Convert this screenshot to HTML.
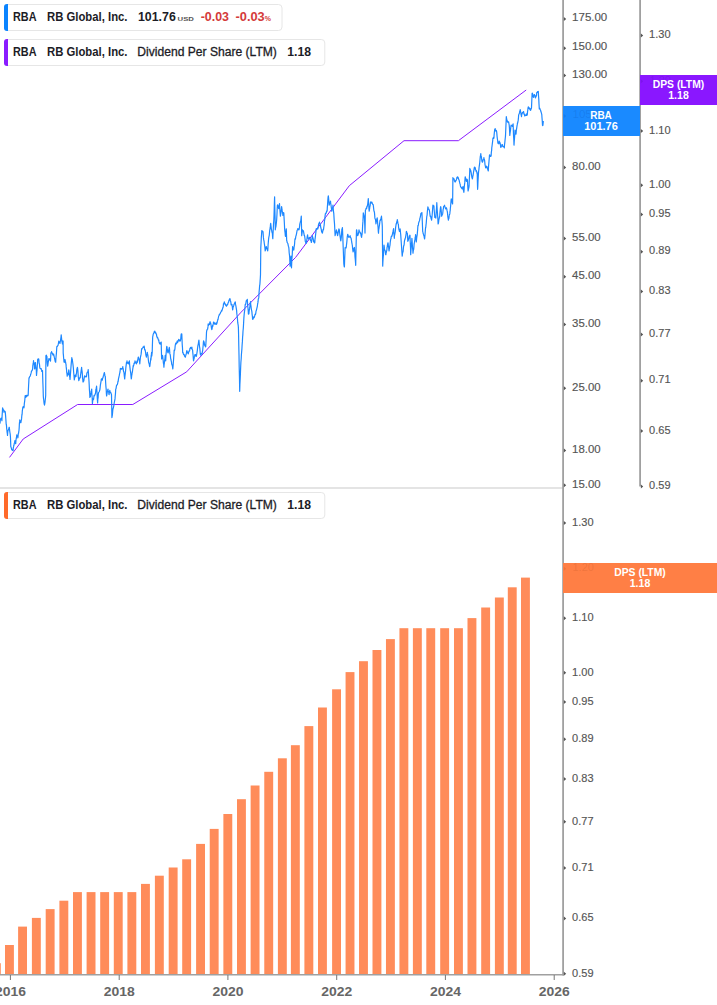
<!DOCTYPE html><html><head><meta charset="utf-8"><style>
html,body{margin:0;padding:0;background:#fff;width:717px;height:1005px;overflow:hidden;position:relative;font-family:"Liberation Sans",sans-serif;}
</style></head><body><svg width="717" height="1005" style="position:absolute;left:0;top:0" font-family="Liberation Sans, sans-serif">
<rect x="-8.10" y="963.2" width="8.9" height="10.8" fill="#ff8c5a"/>
<rect x="5.00" y="945.0" width="8.9" height="29.0" fill="#ff8c5a"/>
<rect x="18.10" y="926.6" width="8.9" height="47.4" fill="#ff8c5a"/>
<rect x="31.90" y="917.9" width="8.9" height="56.1" fill="#ff8c5a"/>
<rect x="45.70" y="909.1" width="8.9" height="64.9" fill="#ff8c5a"/>
<rect x="59.40" y="900.7" width="8.9" height="73.3" fill="#ff8c5a"/>
<rect x="73.00" y="892.1" width="8.9" height="81.9" fill="#ff8c5a"/>
<rect x="86.60" y="892.1" width="8.9" height="81.9" fill="#ff8c5a"/>
<rect x="100.20" y="892.1" width="8.9" height="81.9" fill="#ff8c5a"/>
<rect x="113.80" y="892.1" width="8.9" height="81.9" fill="#ff8c5a"/>
<rect x="127.40" y="892.1" width="8.9" height="81.9" fill="#ff8c5a"/>
<rect x="141.00" y="883.9" width="8.9" height="90.1" fill="#ff8c5a"/>
<rect x="154.90" y="875.7" width="8.9" height="98.3" fill="#ff8c5a"/>
<rect x="168.70" y="867.5" width="8.9" height="106.5" fill="#ff8c5a"/>
<rect x="182.20" y="859.3" width="8.9" height="114.7" fill="#ff8c5a"/>
<rect x="196.10" y="843.9" width="8.9" height="130.1" fill="#ff8c5a"/>
<rect x="209.73" y="828.9" width="8.9" height="145.1" fill="#ff8c5a"/>
<rect x="223.37" y="814.0" width="8.9" height="160.0" fill="#ff8c5a"/>
<rect x="237.00" y="799.2" width="8.9" height="174.8" fill="#ff8c5a"/>
<rect x="250.63" y="785.5" width="8.9" height="188.5" fill="#ff8c5a"/>
<rect x="264.27" y="771.8" width="8.9" height="202.2" fill="#ff8c5a"/>
<rect x="277.90" y="758.3" width="8.9" height="215.7" fill="#ff8c5a"/>
<rect x="290.90" y="745.2" width="8.9" height="228.8" fill="#ff8c5a"/>
<rect x="304.40" y="726.1" width="8.9" height="247.9" fill="#ff8c5a"/>
<rect x="318.00" y="707.5" width="8.9" height="266.5" fill="#ff8c5a"/>
<rect x="332.10" y="689.3" width="8.9" height="284.7" fill="#ff8c5a"/>
<rect x="345.57" y="672.1" width="8.9" height="301.9" fill="#ff8c5a"/>
<rect x="359.03" y="661.2" width="8.9" height="312.8" fill="#ff8c5a"/>
<rect x="372.50" y="650.0" width="8.9" height="324.0" fill="#ff8c5a"/>
<rect x="385.97" y="639.1" width="8.9" height="334.9" fill="#ff8c5a"/>
<rect x="399.43" y="628.2" width="8.9" height="345.8" fill="#ff8c5a"/>
<rect x="412.90" y="628.2" width="8.9" height="345.8" fill="#ff8c5a"/>
<rect x="426.30" y="628.2" width="8.9" height="345.8" fill="#ff8c5a"/>
<rect x="440.20" y="628.2" width="8.9" height="345.8" fill="#ff8c5a"/>
<rect x="454.00" y="628.2" width="8.9" height="345.8" fill="#ff8c5a"/>
<rect x="467.50" y="618.1" width="8.9" height="355.9" fill="#ff8c5a"/>
<rect x="481.20" y="607.5" width="8.9" height="366.5" fill="#ff8c5a"/>
<rect x="494.90" y="597.5" width="8.9" height="376.5" fill="#ff8c5a"/>
<rect x="507.80" y="587.3" width="8.9" height="386.7" fill="#ff8c5a"/>
<rect x="521.00" y="577.6" width="8.9" height="396.4" fill="#ff8c5a"/>
<rect x="0" y="487" width="563" height="2" fill="#e4e4e4"/>
<rect x="562.2" y="0" width="1.8" height="975.5" fill="#a0a0a0"/>
<rect x="639.2" y="0" width="1.8" height="486.5" fill="#a0a0a0"/>
<rect x="0" y="974" width="564" height="1.5" fill="#a0a0a0"/>
<rect x="9.9" y="975" width="1" height="5" fill="#777"/>
<rect x="118.7" y="975" width="1" height="5" fill="#777"/>
<rect x="227.4" y="975" width="1" height="5" fill="#777"/>
<rect x="336.2" y="975" width="1" height="5" fill="#777"/>
<rect x="444.9" y="975" width="1" height="5" fill="#777"/>
<rect x="553.7" y="975" width="1" height="5" fill="#777"/>
<polyline points="9.5,457.4 23.2,439.0 77.6,404.5 132.8,404.5 186.7,371.8 241.1,312.2 295.6,257.4 349.3,185.7 404.0,140.7 458.4,140.7 526.2,90.0" fill="none" stroke="#8a1cff" stroke-width="1.0" stroke-linejoin="round"/>
<polyline points="0.0,423.6 0.2,421.0 0.5,419.5 0.8,418.4 1.0,418.5 1.2,418.1 1.4,418.5 1.7,419.3 1.9,420.6 2.1,415.9 2.4,411.2 2.6,407.9 2.8,408.3 3.0,409.5 3.3,410.2 3.5,410.2 3.7,410.1 3.9,412.1 4.1,412.1 4.3,411.7 4.6,411.1 4.8,411.4 5.0,411.7 5.2,411.6 5.4,413.6 5.6,415.9 5.8,418.5 6.0,421.3 6.2,424.2 6.5,425.6 6.7,428.8 6.9,430.0 7.1,432.1 7.3,433.3 7.5,435.5 7.7,432.6 8.0,430.4 8.2,430.3 8.4,429.7 8.6,429.7 8.9,428.2 9.1,427.4 9.3,427.3 9.5,429.0 9.7,431.1 10.0,433.0 10.2,434.1 10.4,436.3 10.6,440.6 10.8,446.7 11.0,446.9 11.2,447.9 11.5,448.4 11.7,449.6 11.9,449.7 12.1,450.1 12.4,449.8 12.6,450.4 12.9,450.6 13.1,450.4 13.3,448.0 13.6,446.7 13.8,445.2 14.0,445.1 14.2,443.6 14.5,442.7 14.7,441.8 14.9,440.7 15.1,441.8 15.3,442.9 15.5,443.4 15.7,443.7 15.9,441.1 16.1,439.2 16.4,438.0 16.6,436.4 16.8,434.8 17.0,435.4 17.2,435.9 17.5,436.0 17.7,436.5 17.9,437.8 18.1,435.8 18.3,433.5 18.6,433.1 18.8,431.4 19.0,430.3 19.2,427.6 19.4,423.5 19.6,421.9 19.8,419.9 20.0,420.6 20.2,421.7 20.5,422.4 20.7,422.3 20.9,422.8 21.1,421.1 21.4,419.9 21.6,418.4 21.8,415.8 22.1,414.2 22.3,411.1 22.6,409.0 22.8,407.2 23.0,407.4 23.2,406.6 23.5,406.5 23.7,407.1 23.9,407.9 24.1,406.8 24.3,403.9 24.6,401.7 24.8,400.0 25.0,397.7 25.2,395.6 25.5,395.8 25.7,397.0 25.9,397.3 26.1,396.2 26.4,395.6 26.6,395.3 26.8,396.3 27.1,396.1 27.3,395.4 27.5,395.8 27.7,395.1 28.0,395.7 28.2,394.5 28.4,389.6 28.6,385.5 28.8,381.9 29.0,377.8 29.2,378.2 29.5,377.0 29.7,376.7 30.0,376.4 30.2,376.2 30.4,375.5 30.7,374.2 30.9,373.7 31.2,372.7 31.4,371.4 31.6,370.9 31.9,370.6 32.1,370.7 32.4,369.7 32.6,369.0 32.8,365.7 33.0,364.5 33.3,363.2 33.5,360.7 33.7,361.9 33.9,362.6 34.2,364.2 34.4,365.9 34.6,369.0 34.8,367.8 35.0,366.0 35.2,362.9 35.4,362.6 35.6,365.2 35.8,366.5 36.1,369.1 36.3,370.5 36.5,375.4 36.7,373.1 37.0,370.4 37.2,367.2 37.5,362.7 37.7,359.5 37.9,359.0 38.2,359.9 38.4,359.0 38.7,358.9 38.9,360.3 39.1,363.1 39.3,363.8 39.5,364.4 39.7,366.6 39.9,368.1 40.2,368.2 40.4,368.6 40.7,369.0 40.9,369.0 41.1,368.5 41.4,369.4 41.6,369.9 41.8,371.4 42.0,371.3 42.3,371.3 42.5,370.6 42.7,377.3 42.9,383.2 43.1,388.8 43.3,396.1 43.5,398.5 43.8,400.5 44.0,402.8 44.3,404.3 44.5,405.2 44.7,403.9 45.0,402.3 45.2,400.2 45.5,397.7 45.7,395.3 45.9,355.5 46.1,355.6 46.4,355.2 46.6,356.2 46.9,356.3 47.1,359.4 47.3,362.9 47.5,364.9 47.7,366.2 47.9,364.8 48.2,362.5 48.4,361.5 48.7,359.9 48.9,358.7 49.1,359.7 49.4,358.8 49.6,359.8 49.8,359.9 50.0,359.8 50.3,360.1 50.5,361.1 50.7,357.1 50.9,353.1 51.1,352.5 51.4,352.7 51.6,351.6 51.8,352.1 52.0,353.1 52.3,353.1 52.5,353.9 52.7,354.2 53.0,355.1 53.2,354.7 53.4,354.3 53.6,354.0 53.9,355.4 54.1,356.3 54.3,357.2 54.6,358.3 54.8,359.4 55.0,360.5 55.2,361.4 55.5,362.1 55.7,362.2 55.9,358.5 56.1,356.3 56.4,353.4 56.6,350.1 56.8,346.7 57.0,346.5 57.3,346.5 57.5,345.7 57.8,345.6 58.0,345.5 58.2,344.5 58.4,343.5 58.6,342.3 58.8,341.1 59.0,342.6 59.3,341.9 59.5,342.6 59.8,343.0 60.0,343.5 60.2,341.8 60.5,340.7 60.7,339.0 61.0,337.0 61.2,334.8 61.4,336.8 61.7,339.6 61.9,341.4 62.2,342.7 62.4,343.9 62.6,342.5 62.9,340.9 63.1,341.1 63.2,353.1 63.4,354.9 63.6,357.8 63.8,359.3 64.0,361.8 64.2,362.4 64.5,361.3 64.7,360.3 65.0,359.6 65.2,360.3 65.4,362.1 65.6,362.0 65.8,363.6 66.0,364.2 66.2,366.9 66.5,369.5 66.7,372.2 67.0,373.9 67.2,376.2 67.4,374.3 67.7,373.5 67.9,373.9 68.1,374.8 68.3,373.4 68.6,371.2 68.8,369.8 69.0,370.8 69.3,373.9 69.5,375.9 69.8,377.1 70.0,379.4 70.2,377.2 70.5,373.5 70.7,370.6 70.9,367.9 71.1,365.4 71.3,362.9 71.6,360.1 71.8,357.7 72.0,358.4 72.2,358.9 72.5,361.1 72.7,362.5 72.9,363.9 73.1,365.6 73.4,368.4 73.6,371.8 73.8,373.7 74.1,377.3 74.3,379.9 74.5,378.7 74.8,377.1 75.0,375.8 75.3,375.1 75.5,375.2 75.8,376.7 76.0,376.5 76.2,374.3 76.5,373.2 76.7,370.9 76.9,369.1 77.2,368.1 77.4,367.4 77.6,368.2 77.9,370.7 78.1,374.1 78.3,377.0 78.6,378.9 78.8,380.6 79.0,380.0 79.3,378.9 79.5,378.4 79.7,377.9 80.0,377.4 80.2,377.9 80.4,376.3 80.7,373.8 80.9,373.0 81.1,370.8 81.4,369.0 81.6,367.4 81.8,369.6 82.1,371.4 82.3,373.6 82.5,377.6 82.8,379.6 83.0,382.0 83.2,381.9 83.4,381.5 83.6,381.2 83.8,380.9 84.1,378.6 84.3,377.1 84.5,376.3 84.7,375.8 84.9,376.6 85.2,376.9 85.4,376.6 85.6,376.6 85.8,376.3 86.0,376.4 86.3,376.8 86.5,376.5 86.7,374.8 86.9,373.0 87.1,372.6 87.3,372.3 87.6,371.8 87.8,371.3 88.0,370.7 88.2,369.5 88.5,374.0 88.7,377.3 89.0,381.3 89.2,384.8 89.4,389.5 89.7,393.3 89.9,397.4 90.1,396.7 90.4,396.6 90.6,395.0 90.8,393.4 91.0,392.9 91.2,391.1 91.5,390.4 91.7,389.0 91.9,394.1 92.2,398.0 92.4,403.6 92.6,401.8 92.8,399.7 93.0,399.6 93.2,398.6 93.5,399.6 93.7,398.4 93.9,396.7 94.1,395.3 94.3,395.9 94.6,395.3 94.8,395.1 95.0,394.9 95.3,393.7 95.5,393.2 95.7,391.5 95.9,389.2 96.2,388.4 96.4,387.5 96.6,386.2 96.8,390.2 97.1,393.4 97.3,398.4 97.6,402.9 97.8,399.7 98.1,397.6 98.3,394.5 98.6,392.5 98.8,392.1 99.1,391.8 99.3,391.5 99.5,391.1 99.8,389.8 100.0,389.0 100.2,386.9 100.4,384.9 100.7,383.3 100.9,381.9 101.1,381.3 101.3,379.1 101.6,379.1 101.8,378.6 102.0,379.8 102.3,380.1 102.5,378.6 102.7,378.3 102.9,377.3 103.1,377.4 103.3,376.1 103.6,375.4 103.8,374.7 104.0,374.0 104.2,373.0 104.4,372.6 104.6,373.8 104.9,375.4 105.1,376.3 105.3,376.5 105.5,379.8 105.7,383.3 105.9,386.4 106.2,389.5 106.4,393.6 106.6,396.0 106.8,395.1 107.1,393.2 107.3,392.2 107.5,391.2 107.8,390.0 108.0,389.0 108.2,390.9 108.4,391.3 108.7,391.9 108.9,394.0 109.1,394.6 109.3,392.5 109.6,391.9 109.8,390.4 110.0,392.3 110.2,392.3 110.4,392.7 110.7,392.3 110.9,393.2 111.1,393.3 111.3,394.1 111.5,394.6 111.7,405.6 111.9,417.6 112.1,416.5 112.4,414.8 112.6,412.4 112.8,409.9 113.1,408.3 113.3,408.2 113.5,407.1 113.8,405.8 114.0,404.5 114.2,403.0 114.5,401.5 114.7,400.6 115.0,398.9 115.2,396.2 115.5,393.1 115.7,389.3 115.9,388.9 116.1,388.3 116.3,386.8 116.5,385.5 116.8,384.9 117.0,385.0 117.2,384.8 117.4,384.4 117.6,383.6 117.8,382.5 118.0,381.2 118.2,381.4 118.4,379.3 118.7,377.7 118.9,377.3 119.1,375.8 119.3,375.4 119.5,374.1 119.7,373.2 120.0,372.0 120.2,370.1 120.4,368.4 120.7,369.0 120.9,368.5 121.1,368.6 121.3,368.9 121.5,368.9 121.7,369.3 122.0,368.7 122.2,368.2 122.4,368.5 122.6,367.9 122.8,366.6 123.0,367.9 123.2,368.9 123.4,370.7 123.6,371.6 123.9,372.3 124.1,373.5 124.3,376.0 124.5,377.4 124.7,378.9 124.9,376.4 125.2,374.1 125.4,372.3 125.6,370.8 125.9,367.1 126.1,365.6 126.3,364.1 126.5,362.4 126.8,362.5 127.0,360.9 127.2,362.4 127.5,363.2 127.7,362.6 127.9,363.1 128.2,363.8 128.4,363.8 128.7,362.1 128.9,361.9 129.2,361.7 129.4,360.9 129.6,364.2 129.8,366.1 130.0,367.9 130.2,369.8 130.5,371.3 130.7,372.8 130.9,374.9 131.1,377.2 131.3,378.9 131.5,377.7 131.7,375.5 131.9,374.7 132.1,373.0 132.4,372.0 132.6,370.2 132.8,368.6 133.0,367.6 133.2,365.6 133.4,366.4 133.6,365.5 133.9,364.6 134.1,363.1 134.3,363.4 134.6,363.4 134.8,362.8 135.0,360.9 135.2,361.3 135.4,362.5 135.6,362.9 135.9,362.9 136.1,362.8 136.3,363.0 136.5,363.8 136.7,362.3 136.9,361.2 137.1,362.1 137.3,362.3 137.6,360.5 137.8,359.6 138.0,358.6 138.2,357.4 138.4,357.1 138.6,357.9 138.9,358.7 139.1,359.4 139.3,360.3 139.6,362.2 139.8,363.8 140.0,361.3 140.2,359.5 140.4,357.4 140.6,356.5 140.9,355.1 141.1,354.2 141.3,352.7 141.5,349.8 141.7,348.6 141.9,348.7 142.1,349.0 142.3,348.0 142.5,348.1 142.8,347.5 143.0,347.0 143.2,347.2 143.4,347.4 143.6,346.7 143.8,346.7 144.1,346.1 144.3,346.8 144.5,348.8 144.7,349.9 144.9,349.5 145.2,350.0 145.4,351.5 145.7,353.5 145.9,355.1 146.2,356.2 146.4,357.1 146.6,355.6 146.9,354.6 147.1,353.7 147.3,352.4 147.5,353.7 147.7,354.7 148.0,356.2 148.2,358.5 148.4,360.3 148.6,361.9 148.8,363.0 149.0,363.2 149.3,364.4 149.5,366.0 149.7,366.6 149.9,365.8 150.1,363.9 150.3,362.5 150.5,360.7 150.8,358.1 151.0,357.9 151.2,355.5 151.4,354.4 151.6,352.4 150.9,359.9 151.1,358.0 151.3,356.5 151.6,355.8 151.8,355.9 152.0,354.0 152.2,352.7 152.4,345.2 152.7,336.6 152.9,336.1 153.1,334.6 153.3,334.1 153.6,333.4 153.8,333.3 154.0,332.6 154.2,331.7 154.4,332.0 154.7,331.1 154.9,331.5 155.1,332.5 155.4,332.8 155.6,332.3 155.8,333.0 156.0,333.9 156.3,333.8 156.5,334.3 156.7,336.1 157.0,336.6 157.2,337.5 157.4,338.0 157.6,337.5 157.8,337.8 158.1,338.8 158.3,339.6 158.5,340.2 158.8,339.9 159.0,342.0 159.2,342.4 159.4,343.0 159.7,343.8 159.9,343.4 160.1,342.9 160.3,343.0 160.5,344.1 160.8,342.9 161.0,342.6 161.2,342.0 161.4,350.2 161.6,359.0 161.8,358.2 162.1,356.7 162.3,356.2 162.5,355.4 162.7,356.4 163.0,359.0 163.2,360.7 163.4,363.2 163.7,364.3 163.9,367.1 164.1,364.5 164.3,363.6 164.6,360.7 164.8,360.0 165.0,358.1 165.2,355.4 165.4,357.9 165.7,360.8 165.9,357.0 166.1,353.5 166.4,350.6 166.6,347.3 166.8,346.3 167.0,347.2 167.2,348.7 167.5,350.1 167.7,352.0 167.9,352.7 168.1,352.9 168.4,351.9 168.6,350.5 168.8,349.7 169.1,348.8 169.3,347.3 169.5,348.9 169.7,351.6 169.9,353.9 170.2,354.5 170.4,355.8 170.6,358.1 170.8,359.0 171.0,360.0 171.3,361.3 171.5,362.2 171.7,364.2 171.9,364.6 172.1,365.1 172.4,366.2 172.6,367.5 172.8,368.9 173.0,366.6 173.3,363.0 173.5,360.5 173.7,357.5 174.0,353.4 174.2,350.0 174.4,350.6 174.6,350.3 174.9,349.1 175.1,346.6 175.3,345.2 175.6,343.8 175.8,343.0 176.0,343.8 176.2,344.0 176.4,343.9 176.7,343.0 176.9,341.9 177.1,341.4 177.4,340.8 177.6,342.6 177.8,342.0 178.0,341.0 178.2,341.2 178.5,340.7 178.7,339.3 178.9,340.5 179.1,340.6 179.3,339.9 179.6,340.4 179.8,341.1 180.0,341.1 180.2,340.8 180.4,340.7 180.7,339.3 180.9,337.1 181.1,334.7 181.4,333.8 181.6,333.9 181.8,333.9 182.0,338.8 182.2,344.1 182.5,348.0 182.7,352.7 182.9,352.2 183.2,353.2 183.4,354.0 183.6,354.5 183.9,354.7 184.1,354.5 184.3,354.9 184.5,356.1 184.8,356.2 185.0,356.9 185.2,356.7 185.4,357.2 185.6,355.7 185.8,355.2 186.1,354.3 186.3,353.7 186.5,352.5 186.7,350.9 186.9,350.7 187.1,351.4 187.4,352.6 187.6,352.3 187.8,352.9 188.1,353.5 188.3,353.8 188.5,352.7 188.7,352.3 188.9,351.0 189.2,351.2 189.4,351.1 189.6,350.9 189.9,348.5 190.1,348.3 190.3,348.2 190.5,347.4 190.8,348.2 191.0,348.4 191.2,348.4 191.4,348.0 191.7,347.4 191.9,347.2 192.1,349.5 192.4,349.7 192.6,350.0 192.8,352.7 193.1,355.5 193.3,358.2 193.5,360.8 193.7,360.3 193.9,359.0 194.1,358.6 194.4,356.7 194.6,356.2 194.8,355.1 195.0,354.5 195.2,354.8 195.5,354.6 195.7,355.9 195.9,356.0 196.2,356.3 196.4,356.1 196.6,354.8 196.9,353.1 197.1,351.8 197.3,350.6 197.5,348.7 197.8,346.2 198.0,345.1 198.2,344.3 198.4,343.3 198.7,341.0 198.9,340.0 199.1,342.2 199.3,344.3 199.5,346.5 199.8,348.2 200.0,350.2 200.2,352.8 200.4,354.3 200.6,355.2 200.8,355.1 201.0,355.2 201.2,353.9 201.4,353.4 201.7,353.7 201.9,353.6 202.1,353.6 202.3,352.7 202.5,351.2 202.7,350.3 202.9,348.0 203.2,345.3 203.4,342.3 203.6,340.8 203.8,341.6 204.1,341.7 204.3,343.3 204.5,344.5 204.8,345.7 205.0,345.2 205.2,345.8 205.5,346.9 205.7,346.8 205.9,343.4 206.1,340.3 206.3,337.0 206.5,332.4 206.7,330.7 206.9,330.2 207.1,329.7 207.3,329.4 207.6,329.1 207.8,327.8 208.0,326.4 208.2,323.9 208.4,324.1 208.6,325.4 208.8,324.8 209.1,324.2 209.3,324.3 209.5,324.3 209.7,323.0 209.9,322.2 210.1,321.7 210.4,323.3 210.6,323.0 210.8,323.9 211.1,325.5 211.3,327.0 211.5,328.3 211.8,329.6 212.0,329.0 212.2,327.9 212.4,326.5 212.6,325.4 212.8,326.4 213.1,324.4 213.3,323.9 213.5,322.1 213.7,322.2 213.9,322.9 214.2,322.4 214.4,323.7 214.6,323.6 214.9,324.3 215.1,324.4 215.3,323.8 215.6,323.4 215.8,323.1 216.0,323.2 216.2,323.0 216.5,324.4 216.7,323.9 216.9,323.3 217.1,322.5 217.3,321.7 217.6,320.4 217.8,319.4 218.0,319.7 218.2,318.5 218.5,317.0 218.7,316.0 219.0,315.5 219.2,314.6 219.4,315.0 219.6,314.5 219.8,314.2 220.1,313.6 220.3,313.4 220.5,312.7 220.7,312.3 220.9,312.1 221.1,311.6 221.3,311.1 221.6,310.5 221.8,311.1 222.0,310.5 222.2,309.5 222.4,309.4 222.6,308.5 222.8,307.5 223.1,307.4 223.3,306.0 223.5,303.6 223.7,303.6 223.9,304.1 224.1,302.7 224.3,301.9 224.5,303.4 224.7,303.1 224.9,303.6 225.2,303.8 225.4,304.8 225.6,304.5 225.8,305.4 226.1,305.6 226.3,306.1 226.5,306.2 226.8,305.0 227.0,305.2 227.2,304.5 227.5,304.8 227.7,304.5 227.9,303.5 228.2,302.6 228.4,302.4 228.6,302.2 228.9,300.7 229.1,299.9 229.3,300.2 229.6,299.8 229.8,298.5 230.0,299.1 230.2,299.5 230.4,300.9 230.7,301.6 230.9,302.6 231.1,304.8 231.3,304.5 231.5,304.5 231.7,304.4 231.9,304.4 232.2,306.2 232.4,307.5 232.6,309.8 232.8,309.5 233.0,307.4 233.3,307.0 233.5,306.2 233.8,305.4 234.0,304.5 234.2,304.0 234.4,303.4 234.7,302.9 234.9,302.9 235.1,302.2 235.3,301.9 235.5,304.4 235.7,305.0 235.9,306.0 236.2,307.8 236.4,309.1 236.6,310.4 236.8,313.3 237.0,314.9 237.2,316.0 237.4,318.2 237.7,322.2 237.9,323.6 238.2,325.3 238.4,327.6 238.6,335.7 238.8,345.8 239.0,354.8 239.2,366.9 239.5,379.5 239.7,391.3 239.9,384.7 240.2,378.6 240.4,374.1 240.7,366.3 240.9,362.2 241.2,358.7 241.4,354.8 241.6,352.4 241.9,348.9 242.1,345.2 242.4,341.4 242.6,337.0 242.8,335.1 243.0,331.3 243.3,328.2 243.5,324.9 243.7,321.3 243.9,317.6 244.1,315.2 244.3,313.1 244.6,311.0 244.8,309.5 245.0,307.2 245.2,304.6 245.4,304.3 245.7,304.3 245.9,303.2 246.1,301.6 246.4,300.4 246.6,300.7 246.8,300.9 247.1,299.8 247.3,299.4 247.5,302.5 247.7,306.0 248.0,308.1 248.2,310.5 248.4,314.0 248.6,314.2 248.9,313.7 249.1,311.4 249.3,310.2 249.6,308.4 249.8,306.9 250.0,304.9 250.3,303.0 250.5,301.5 250.7,304.3 251.0,306.3 251.2,308.1 251.4,309.6 251.7,310.6 251.9,311.9 252.1,314.3 252.4,316.4 252.6,319.3 252.8,319.4 253.0,319.2 253.3,318.0 253.5,318.2 253.7,316.9 253.9,317.8 254.2,317.3 254.4,317.2 254.6,316.1 254.8,315.3 255.1,314.2 255.3,314.6 255.5,314.3 255.8,313.1 256.0,311.3 256.2,310.8 256.5,310.0 256.7,308.8 256.9,308.1 257.2,306.8 257.4,305.8 257.6,304.2 257.9,302.7 258.1,301.2 258.3,298.9 258.6,298.3 258.8,297.4 259.0,293.4 259.2,290.7 259.4,288.7 259.6,286.0 259.9,284.1 260.1,281.1 260.3,278.3 260.5,274.6 260.8,247.5 261.1,242.3 261.3,237.8 261.6,234.1 261.8,230.6 262.0,231.5 262.3,231.7 262.5,231.1 262.8,231.5 263.0,231.5 263.2,234.4 263.4,237.4 263.7,239.7 263.9,240.5 264.1,241.7 264.3,243.5 264.5,244.6 264.8,246.6 265.0,248.7 265.2,250.9 265.4,250.3 265.7,248.8 265.9,247.5 266.2,246.6 266.4,246.7 266.6,247.8 266.8,248.6 267.0,248.8 267.3,249.4 267.5,250.0 267.7,250.9 267.9,248.6 268.1,244.7 268.3,242.5 268.5,239.9 268.7,238.1 268.9,236.9 269.2,235.6 269.4,234.0 269.6,231.3 269.8,229.9 270.0,228.8 270.3,227.2 270.5,224.6 270.7,223.4 270.9,225.3 271.1,226.9 271.3,228.6 271.5,229.8 271.7,230.4 271.9,231.8 272.1,232.6 272.4,233.7 272.6,237.1 272.8,238.6 273.0,234.2 273.3,228.7 273.5,224.3 273.8,220.3 274.0,215.4 274.2,209.5 274.4,202.2 274.6,196.8 274.8,207.0 275.1,218.2 275.3,229.8 275.5,228.2 275.7,227.3 276.0,226.0 276.2,224.3 276.4,222.6 276.6,220.5 276.8,217.2 277.0,213.7 277.2,208.8 277.4,205.2 277.6,205.4 277.8,205.0 278.0,206.5 278.3,206.3 278.5,207.8 278.7,208.6 278.9,207.4 279.1,206.0 279.3,205.0 279.5,203.5 279.7,206.8 279.9,209.9 280.2,213.6 280.4,216.2 280.6,214.6 280.9,213.4 281.1,211.1 281.4,209.1 281.6,206.5 281.8,207.9 282.0,209.7 282.2,211.1 282.5,212.1 282.7,213.7 282.9,215.4 283.1,214.9 283.4,214.6 283.6,212.6 283.8,212.8 284.0,216.7 284.2,220.1 284.4,223.8 284.6,228.1 284.8,231.0 285.1,233.0 285.3,235.4 285.5,236.5 285.7,234.6 285.9,232.6 286.1,230.3 286.3,228.9 286.5,235.1 286.7,240.8 286.9,240.8 287.1,242.4 287.4,242.7 287.6,243.1 287.8,243.3 288.0,244.1 288.2,245.3 288.4,246.2 288.6,246.8 288.8,247.5 289.0,249.8 289.2,253.0 289.5,255.2 289.7,257.7 289.9,262.1 290.1,266.1 290.3,263.5 290.6,260.1 290.8,258.0 291.0,256.0 291.2,261.3 291.5,267.8 291.7,263.1 291.9,259.3 292.2,255.5 292.4,251.0 292.6,246.7 292.8,247.6 293.0,247.9 293.2,248.4 293.5,249.7 293.7,250.1 293.9,249.2 294.1,246.8 294.4,245.5 294.6,243.5 294.8,240.8 295.0,238.9 295.2,238.6 295.4,239.2 295.6,237.8 295.9,235.8 296.1,235.6 296.3,234.7 296.5,234.0 296.7,232.7 297.0,231.0 297.2,230.2 297.5,229.7 297.7,228.9 297.9,228.6 298.1,229.4 298.4,229.4 298.6,229.8 298.8,229.3 299.0,229.8 299.2,228.6 299.4,227.8 299.6,226.1 299.8,224.7 300.0,223.0 300.2,222.4 300.4,221.7 300.7,221.2 300.9,219.6 301.1,217.5 301.3,216.2 301.5,226.1 301.7,235.7 301.9,234.1 302.1,232.8 302.3,231.0 302.5,229.8 302.7,230.6 302.9,230.5 303.1,230.6 303.4,230.9 303.6,231.9 303.8,233.1 304.0,233.9 304.2,235.4 304.5,235.6 304.7,236.3 304.9,238.0 305.1,239.1 305.3,241.5 305.5,241.8 305.7,242.3 305.9,243.3 306.1,243.0 306.3,243.1 306.5,241.7 306.8,240.0 307.0,238.3 307.2,236.6 307.4,236.0 307.6,234.8 307.8,236.8 308.1,238.0 308.3,238.2 308.5,239.1 308.7,238.4 309.0,238.3 309.2,238.3 309.5,237.4 309.7,237.4 309.9,238.3 310.1,238.7 310.3,239.4 310.5,240.3 310.8,240.6 311.0,240.6 311.2,242.0 311.4,242.5 311.6,240.7 311.9,239.5 312.1,237.1 312.3,235.7 312.5,236.4 312.8,237.8 313.0,238.2 313.3,239.3 313.5,241.6 313.7,241.5 313.9,240.8 314.1,242.1 314.4,241.7 314.6,242.8 314.8,242.5 315.0,239.2 315.2,238.1 315.5,235.5 315.7,233.7 315.9,232.1 316.1,228.9 316.3,229.0 316.5,228.7 316.7,229.1 317.0,229.2 317.2,228.4 317.4,228.5 317.6,229.0 317.8,228.9 318.0,228.1 318.2,226.6 318.4,225.4 318.6,224.5 318.9,223.5 319.1,223.2 319.3,222.7 319.5,222.1 319.7,223.3 320.0,224.1 320.2,223.9 320.5,225.3 320.7,227.2 320.9,228.1 321.1,228.7 321.3,229.5 321.5,231.1 321.8,232.1 322.0,232.2 322.2,232.8 322.4,233.1 322.6,232.2 322.8,230.9 323.0,229.5 323.2,229.8 323.5,229.8 323.7,228.0 323.9,226.5 324.1,225.5 324.3,223.4 324.5,220.6 324.8,219.4 325.0,216.4 325.2,215.1 325.4,213.7 325.6,213.5 325.8,213.0 326.0,213.1 326.2,213.2 326.5,211.7 326.7,210.9 326.9,211.3 327.1,211.2 327.3,207.9 327.6,204.1 327.8,200.6 328.1,197.0 328.3,195.9 328.5,197.2 328.8,200.4 329.0,202.9 329.2,205.2 329.4,204.4 329.6,203.3 329.9,203.5 330.1,202.9 330.3,202.0 330.5,201.0 330.7,203.3 331.0,204.8 331.2,206.8 331.5,208.6 331.7,211.2 331.9,211.0 332.1,209.0 332.4,208.2 332.6,208.2 332.8,206.7 333.0,205.2 333.2,208.1 333.4,210.3 333.6,212.3 333.8,213.7 334.0,217.1 334.2,220.1 334.5,223.6 334.7,227.2 334.9,231.8 335.1,235.7 335.3,234.5 335.5,233.7 335.8,232.8 336.0,232.0 336.2,230.8 336.4,229.8 336.6,230.6 336.9,231.5 337.1,232.8 337.4,234.8 337.6,235.7 337.8,234.8 338.0,233.7 338.2,232.4 338.5,231.6 338.7,229.8 338.9,228.9 339.1,230.6 339.3,229.6 339.5,231.4 339.7,233.2 340.0,236.0 340.2,236.8 340.4,238.3 340.6,240.0 340.8,240.8 341.0,239.4 341.3,237.4 341.5,234.6 341.7,231.5 341.9,229.0 342.2,228.4 342.4,227.6 342.6,231.7 342.8,236.2 343.0,242.5 343.2,247.7 343.4,252.6 343.6,258.3 343.8,263.6 344.0,265.1 344.2,266.5 344.4,267.0 344.6,260.9 344.9,253.7 345.1,247.5 345.3,248.0 345.6,248.0 345.8,248.0 346.1,248.0 346.3,246.7 346.5,244.6 346.7,243.1 347.0,240.1 347.2,237.2 347.4,236.1 347.6,234.8 347.8,234.3 348.0,235.1 348.2,235.6 348.5,236.7 348.7,237.0 348.9,237.4 349.1,236.9 349.3,237.0 349.5,236.9 349.8,236.5 350.0,236.2 350.2,235.7 350.4,237.3 350.7,237.7 350.9,237.8 351.1,238.3 351.4,240.2 351.6,241.0 351.8,242.6 352.1,244.2 352.3,245.0 352.5,247.1 352.7,249.1 352.9,250.7 353.1,251.8 353.3,251.2 353.5,249.8 353.8,249.0 354.0,248.1 354.2,247.8 354.4,247.5 354.6,249.9 354.8,253.3 355.0,256.9 355.3,259.8 355.5,262.1 355.7,265.3 355.9,254.8 356.1,245.6 356.3,237.2 356.5,229.8 356.7,229.8 356.9,231.5 357.1,233.6 357.4,235.5 357.6,234.4 357.8,235.7 358.0,234.6 358.3,234.1 358.5,232.8 358.8,231.2 359.0,229.8 359.2,231.0 359.4,231.7 359.6,231.6 359.9,232.0 360.1,232.8 360.3,233.3 360.5,233.4 360.7,233.1 360.9,234.2 361.1,235.6 361.4,236.8 361.6,237.4 361.8,235.2 362.0,234.7 362.2,232.7 362.4,230.6 362.6,225.7 362.9,221.9 363.1,217.9 363.3,212.8 363.5,213.6 363.8,214.8 364.0,215.7 364.3,216.9 364.5,218.8 364.8,225.9 365.0,233.1 365.2,221.6 365.4,210.3 365.6,209.8 365.8,209.4 366.0,208.6 366.2,208.2 366.5,208.6 366.7,208.5 366.9,206.4 367.1,206.9 367.3,206.0 367.6,204.5 367.8,203.5 368.1,200.5 368.3,198.5 368.5,201.7 368.8,205.5 369.0,209.4 369.2,211.2 369.4,209.7 369.6,208.7 369.9,206.3 370.1,206.0 370.3,204.0 370.5,202.7 370.7,201.9 371.0,202.2 371.2,202.2 371.4,203.0 371.6,202.2 371.9,202.2 372.1,203.5 372.3,203.1 372.5,203.7 372.8,204.4 373.0,204.5 373.2,204.7 373.4,206.1 373.6,208.1 373.8,209.8 374.0,211.2 374.3,211.6 374.5,212.9 374.7,215.4 374.9,217.9 375.1,218.8 375.4,219.1 375.6,220.5 375.8,222.4 376.0,223.8 376.2,222.1 376.5,220.8 376.7,219.9 377.0,218.5 377.2,217.9 377.4,219.7 377.6,222.8 377.9,226.0 378.1,227.7 378.3,231.4 378.5,233.1 378.7,229.6 378.9,229.0 379.1,227.5 379.4,225.3 379.6,223.8 379.8,222.1 380.0,220.5 380.2,220.1 380.4,220.3 380.6,219.4 380.9,218.7 381.1,217.6 381.3,217.4 381.5,216.2 381.7,218.8 381.9,220.9 382.1,223.3 382.3,226.4 382.5,246.6 382.7,266.1 382.9,261.8 383.1,258.6 383.4,255.3 383.6,252.7 383.8,248.8 384.0,245.0 384.2,246.4 384.4,248.4 384.6,249.4 384.9,250.4 385.1,250.7 385.3,251.4 385.5,253.1 385.7,254.7 385.9,254.7 386.1,252.7 386.3,252.5 386.6,251.0 386.8,250.6 387.0,248.1 387.2,247.2 387.4,245.2 387.6,244.6 387.8,243.3 388.0,242.8 388.2,243.8 388.4,246.5 388.7,247.4 388.9,250.1 389.1,251.0 389.3,248.9 389.5,248.2 389.7,246.5 390.0,245.1 390.2,242.7 390.4,241.1 390.6,239.8 390.8,238.8 391.0,238.6 391.2,236.5 391.4,236.6 391.7,235.8 391.9,236.3 392.1,235.6 392.3,234.6 392.5,233.8 392.7,232.9 392.9,232.3 393.2,231.0 393.4,229.3 393.6,228.6 393.8,232.9 394.1,235.3 394.3,238.3 394.5,235.7 394.7,234.9 394.9,233.7 395.2,232.2 395.4,230.4 395.6,227.6 395.8,226.3 396.0,225.0 396.2,223.5 396.4,223.9 396.7,222.0 396.9,222.0 397.1,221.2 397.3,219.6 397.5,221.0 397.7,221.7 397.9,223.2 398.2,224.0 398.4,224.5 398.6,227.7 398.8,228.6 399.0,229.8 399.2,230.3 399.4,231.3 399.7,230.9 399.9,230.7 400.1,228.9 400.3,230.1 400.5,232.8 400.7,234.4 400.9,237.4 401.1,240.3 401.4,244.7 401.6,247.3 401.8,250.4 402.0,253.2 402.2,256.2 402.4,254.8 402.6,253.0 402.9,252.1 403.1,251.6 403.3,249.3 403.5,247.1 403.7,245.6 404.0,245.5 404.2,243.9 404.4,241.3 404.6,240.4 404.8,239.5 405.0,239.4 405.2,238.1 405.5,238.0 405.7,236.1 405.9,235.3 406.1,233.9 406.3,231.6 406.5,231.4 406.7,232.4 407.0,233.2 407.2,233.0 407.4,233.8 407.6,237.6 407.8,241.3 408.0,240.9 408.2,240.5 408.5,239.3 408.7,238.6 408.9,238.1 409.1,237.0 409.3,236.1 409.6,235.6 409.8,235.2 410.0,235.3 410.2,241.3 410.5,247.8 410.7,254.7 410.9,251.1 411.2,248.0 411.4,244.3 411.7,241.8 411.9,238.3 412.1,240.6 412.3,244.2 412.6,248.5 412.8,250.2 413.0,253.2 413.2,251.3 413.4,250.2 413.7,249.3 413.9,247.3 414.1,244.3 414.3,243.1 414.5,242.2 414.7,240.9 415.0,239.3 415.2,237.0 415.4,237.1 415.6,234.6 415.8,236.1 416.1,239.3 416.3,242.0 416.5,240.0 416.7,237.8 416.9,236.5 417.2,235.0 417.4,232.2 417.6,230.4 417.8,227.1 418.0,225.4 418.2,225.7 418.4,224.9 418.6,222.9 418.9,222.3 419.1,221.4 419.3,221.2 419.5,220.7 419.7,219.6 419.9,218.2 420.1,217.8 420.4,216.3 420.6,215.5 420.8,213.9 421.0,213.3 421.2,213.7 421.5,213.2 421.7,213.1 421.9,212.5 422.1,216.7 422.3,221.4 422.5,226.4 422.7,231.6 422.9,232.0 423.1,233.4 423.3,233.7 423.5,234.6 423.8,235.5 424.0,235.6 424.2,237.1 424.4,238.1 424.6,239.0 424.8,237.1 425.1,233.7 425.3,230.9 425.5,228.4 425.8,227.2 426.0,224.9 426.2,223.5 426.4,220.9 426.6,218.5 426.8,216.3 427.1,215.2 427.3,212.2 427.5,210.2 427.7,208.6 427.9,206.9 428.1,207.4 428.3,208.4 428.6,209.2 428.8,208.9 429.0,209.9 429.2,209.9 429.4,210.2 429.6,211.8 429.9,214.1 430.1,215.7 430.3,216.6 430.5,216.6 430.7,216.5 431.0,218.2 431.2,219.0 431.4,218.5 431.6,220.1 431.8,218.1 432.0,216.6 432.2,214.5 432.5,210.6 432.7,207.7 432.9,205.2 433.1,205.2 433.4,206.3 433.6,205.9 433.9,205.9 434.1,209.2 434.4,212.4 434.6,215.0 434.8,217.5 435.1,216.3 435.3,217.1 435.6,217.5 435.8,218.2 436.1,214.1 436.3,210.8 436.6,206.8 436.8,202.7 437.0,206.2 437.2,209.9 437.5,213.6 437.7,216.8 437.9,219.8 438.1,224.0 438.3,223.7 438.6,222.1 438.8,220.1 439.0,219.2 439.2,218.3 439.5,216.5 439.7,216.9 439.9,213.1 440.2,210.2 440.4,208.1 440.7,206.5 440.9,207.5 441.1,209.5 441.4,212.9 441.6,216.2 441.8,215.7 442.0,215.4 442.2,214.5 442.5,214.5 442.7,213.4 442.9,211.7 443.1,209.6 443.4,208.6 443.6,206.6 443.8,206.3 444.0,206.1 444.3,205.8 444.5,205.2 444.7,206.2 445.0,206.7 445.2,207.5 445.4,208.1 445.6,208.9 445.9,208.4 446.1,208.2 446.3,207.7 446.6,208.5 446.8,209.1 447.0,210.4 447.3,211.5 447.5,212.9 447.7,215.4 447.9,217.1 448.2,218.8 448.4,220.1 448.6,218.6 448.9,218.4 449.1,216.5 449.3,214.9 449.5,214.7 449.8,213.9 450.0,211.7 450.2,210.6 450.4,207.8 450.6,206.3 450.9,202.6 451.1,200.0 451.3,198.8 451.5,199.5 451.7,200.2 452.0,201.4 452.2,202.5 452.4,203.3 452.6,204.0 452.9,177.5 453.1,178.8 453.3,179.3 453.5,178.8 453.8,178.7 454.0,178.8 454.2,179.4 454.4,181.0 454.7,181.2 454.9,181.8 455.2,182.0 455.4,181.6 455.6,180.6 455.8,180.4 456.0,180.7 456.3,179.9 456.5,179.2 456.7,178.8 456.9,177.3 457.1,178.1 457.3,177.3 457.5,177.3 457.7,176.8 458.0,178.1 458.2,177.9 458.4,177.8 458.6,179.3 458.8,179.4 459.0,179.9 459.3,180.9 459.5,182.1 459.7,182.6 459.9,183.5 460.2,184.4 460.4,185.9 460.6,186.5 460.8,187.1 461.0,187.1 461.3,187.7 461.5,187.5 461.7,188.4 461.9,188.6 462.1,188.2 462.4,189.0 462.6,187.9 462.8,187.1 463.0,186.5 463.2,188.6 463.4,190.0 463.7,191.4 463.9,192.3 464.1,189.5 464.3,186.1 464.5,184.8 464.8,182.4 465.0,178.7 465.2,176.8 465.4,177.4 465.6,178.7 465.9,178.4 466.1,179.8 466.3,181.1 466.5,181.3 466.8,180.3 467.0,179.6 467.2,179.4 467.5,180.7 467.7,184.7 467.9,188.4 468.1,191.0 468.4,189.6 468.6,188.7 468.9,187.4 469.1,185.9 469.3,179.8 469.6,174.4 469.8,168.4 470.0,169.2 470.3,169.5 470.5,170.0 470.7,170.3 470.9,171.8 471.2,172.6 471.4,174.2 471.6,175.4 471.9,177.5 472.1,177.9 472.4,179.0 472.6,177.9 472.8,176.4 473.1,175.3 473.3,173.7 473.5,172.5 473.7,171.0 474.0,170.0 474.2,168.7 474.4,167.0 474.6,167.3 474.9,167.9 475.1,167.5 475.3,168.2 475.5,169.6 475.8,170.0 476.0,171.0 476.2,171.4 476.5,170.8 476.7,171.7 477.0,173.4 477.2,172.6 477.4,182.0 477.6,189.3 477.8,186.4 478.0,181.2 478.2,178.0 478.4,174.2 478.6,171.7 478.9,169.6 479.1,167.3 479.4,165.1 479.6,163.8 479.8,162.0 480.1,158.5 480.3,156.5 480.6,155.2 480.8,153.5 481.0,156.1 481.3,156.2 481.5,157.8 481.7,159.3 481.9,161.2 482.2,161.7 482.4,162.2 482.6,161.8 482.8,161.5 483.0,159.9 483.3,159.8 483.5,159.5 483.7,159.7 483.9,157.5 484.1,159.0 484.4,159.6 484.6,160.5 484.8,162.2 485.0,164.6 485.3,165.9 485.5,167.0 485.7,167.9 486.0,167.3 486.2,167.2 486.4,166.9 486.6,166.2 486.9,166.4 487.1,167.8 487.3,168.3 487.6,169.0 487.8,169.4 488.1,170.5 488.3,171.0 488.5,166.9 488.8,163.6 489.0,161.2 489.3,157.7 489.5,155.1 489.7,154.8 490.0,156.1 490.2,156.0 490.4,156.3 490.6,155.9 490.9,156.3 491.1,155.9 491.3,152.6 491.6,150.6 491.8,147.5 492.0,146.3 492.2,144.7 492.5,142.4 492.7,140.7 492.9,138.2 493.2,138.6 493.4,137.4 493.7,137.2 493.9,138.3 494.1,135.2 494.3,133.0 494.5,131.3 494.7,129.6 494.9,128.9 495.2,128.7 495.4,130.2 495.6,130.2 495.8,131.1 496.1,130.6 496.3,130.4 496.5,130.9 496.8,132.9 497.0,135.5 497.2,137.4 497.4,139.0 497.7,141.0 497.9,143.1 498.1,142.3 498.3,142.1 498.6,142.8 498.8,143.8 499.0,142.7 499.2,141.2 499.5,142.0 499.7,142.1 499.9,142.3 500.1,143.5 500.3,144.1 500.5,145.5 500.7,147.1 500.9,147.4 501.2,146.1 501.4,146.3 501.7,145.5 501.9,144.7 502.1,144.9 502.3,144.6 502.6,146.2 502.8,146.5 503.0,146.7 503.2,146.5 503.4,146.6 503.6,146.4 503.9,146.8 504.1,147.4 504.3,147.9 504.5,144.9 504.8,142.6 505.0,140.6 505.3,137.7 505.5,135.9 505.7,131.1 505.9,126.4 506.1,121.9 506.3,116.7 506.6,118.5 506.8,119.9 507.1,120.2 507.3,121.2 507.5,122.0 507.8,121.7 508.0,121.7 508.2,122.5 508.4,121.9 508.7,122.1 508.9,123.5 509.2,125.1 509.4,127.4 509.6,130.9 509.8,135.4 510.0,133.8 510.2,132.1 510.5,130.4 510.7,128.0 510.9,126.7 511.1,125.1 511.3,125.3 511.5,126.0 511.8,125.7 512.0,125.5 512.2,125.4 512.4,126.3 512.7,124.9 512.9,124.6 513.1,123.8 513.3,128.9 513.5,134.5 513.8,139.6 514.0,145.1 514.2,142.0 514.5,138.2 514.8,134.4 515.0,130.2 515.2,131.0 515.5,131.5 515.8,132.7 516.0,134.1 516.2,132.0 516.4,129.8 516.6,128.8 516.9,126.7 517.1,125.4 517.3,124.4 517.5,122.9 517.7,122.9 518.0,121.1 518.2,120.2 518.4,118.7 518.6,115.4 518.8,114.6 519.1,113.8 519.3,113.5 519.5,112.7 519.7,111.5 520.0,110.5 520.2,109.6 520.4,111.0 520.6,111.6 520.9,113.3 521.1,114.8 521.3,115.1 521.5,116.7 521.7,114.7 521.9,114.3 522.1,113.1 522.3,112.6 522.6,113.0 522.8,112.6 523.0,112.0 523.2,112.5 523.4,111.5 523.6,111.6 523.8,113.0 524.0,114.2 524.3,113.9 524.5,114.7 524.7,116.0 524.9,115.8 525.2,115.4 525.4,115.4 525.6,115.4 525.8,114.8 526.1,115.3 526.3,114.1 526.5,114.0 526.8,115.5 527.0,114.7 527.3,114.7 527.5,111.9 527.8,110.1 528.0,108.1 528.3,107.0 528.5,106.8 528.8,108.3 529.0,107.8 529.2,107.9 529.4,108.2 529.7,108.8 529.9,109.6 530.1,108.6 530.4,110.3 530.6,110.3 530.8,109.9 531.0,108.9 531.3,108.7 531.5,107.6 531.7,103.0 531.9,97.9 532.1,93.4 532.3,93.2 532.5,93.5 532.8,95.4 533.0,96.5 533.2,97.0 533.4,96.6 533.6,97.4 533.8,96.0 534.1,94.7 534.3,95.4 534.5,94.7 534.7,95.4 535.0,95.6 535.2,96.9 535.4,97.9 535.6,97.6 535.8,96.4 536.0,96.0 536.3,96.2 536.5,95.6 536.7,92.8 536.9,92.4 537.2,92.1 537.4,91.9 537.6,91.6 537.8,92.3 538.1,91.3 538.3,91.5 538.5,95.5 538.8,99.4 539.0,104.0 539.3,108.9 539.5,108.5 539.7,108.2 540.0,108.9 540.2,109.5 540.4,109.8 540.6,110.2 540.8,111.3 541.1,112.1 541.3,112.7 541.6,113.9 541.8,114.7 542.0,117.7 542.3,121.5 542.5,125.1 542.8,125.6 543.0,124.4 543.2,122.4 543.5,121.2" fill="none" stroke="#1e88ff" stroke-width="1.2" stroke-linejoin="round"/>
<path d="M563.9,16.9 L566.2,18.9 L563.9,20.9 Z" fill="#555"/>
<text x="572.10" y="21.23" font-size="11" fill="#555" stroke="#555" stroke-width="0.15" textLength="35.19" lengthAdjust="spacingAndGlyphs">175.00</text>
<path d="M563.9,46.2 L566.2,48.2 L563.9,50.2 Z" fill="#555"/>
<text x="572.10" y="50.49" font-size="11" fill="#555" stroke="#555" stroke-width="0.15" textLength="35.19" lengthAdjust="spacingAndGlyphs">150.00</text>
<path d="M563.9,73.4 L566.2,75.4 L563.9,77.4 Z" fill="#555"/>
<text x="572.10" y="77.65" font-size="11" fill="#555" stroke="#555" stroke-width="0.15" textLength="35.19" lengthAdjust="spacingAndGlyphs">130.00</text>
<path d="M563.9,113.9 L566.2,115.9 L563.9,117.9 Z" fill="#555"/>
<text x="572.10" y="118.19" font-size="11" fill="#555" stroke="#555" stroke-width="0.15" textLength="35.19" lengthAdjust="spacingAndGlyphs">105.00</text>
<path d="M563.9,165.5 L566.2,167.5 L563.9,169.5 Z" fill="#555"/>
<text x="572.10" y="169.80" font-size="11" fill="#555" stroke="#555" stroke-width="0.15" textLength="28.56" lengthAdjust="spacingAndGlyphs">80.00</text>
<path d="M563.9,236.6 L566.2,238.6 L563.9,240.6 Z" fill="#555"/>
<text x="572.10" y="240.92" font-size="11" fill="#555" stroke="#555" stroke-width="0.15" textLength="28.56" lengthAdjust="spacingAndGlyphs">55.00</text>
<path d="M563.9,274.7 L566.2,276.7 L563.9,278.7 Z" fill="#555"/>
<text x="572.10" y="279.00" font-size="11" fill="#555" stroke="#555" stroke-width="0.15" textLength="28.56" lengthAdjust="spacingAndGlyphs">45.00</text>
<path d="M563.9,322.4 L566.2,324.4 L563.9,326.4 Z" fill="#555"/>
<text x="572.10" y="326.70" font-size="11" fill="#555" stroke="#555" stroke-width="0.15" textLength="28.56" lengthAdjust="spacingAndGlyphs">35.00</text>
<path d="M563.9,386.3 L566.2,388.3 L563.9,390.3 Z" fill="#555"/>
<text x="572.10" y="390.57" font-size="11" fill="#555" stroke="#555" stroke-width="0.15" textLength="28.56" lengthAdjust="spacingAndGlyphs">25.00</text>
<path d="M563.9,448.6 L566.2,450.6 L563.9,452.6 Z" fill="#555"/>
<text x="572.10" y="452.92" font-size="11" fill="#555" stroke="#555" stroke-width="0.15" textLength="28.56" lengthAdjust="spacingAndGlyphs">18.00</text>
<path d="M563.9,483.2 L566.2,485.2 L563.9,487.2 Z" fill="#555"/>
<text x="572.10" y="487.52" font-size="11" fill="#555" stroke="#555" stroke-width="0.15" textLength="28.56" lengthAdjust="spacingAndGlyphs">15.00</text>
<path d="M640.9,33.6 L643.2,35.6 L640.9,37.6 Z" fill="#555"/>
<text x="649.10" y="38.19" font-size="11" fill="#555" stroke="#555" stroke-width="0.15">1.30</text>
<path d="M640.9,79.3 L643.2,81.3 L640.9,83.3 Z" fill="#555"/>
<text x="649.10" y="83.87" font-size="11" fill="#555" stroke="#555" stroke-width="0.15">1.20</text>
<path d="M640.9,128.9 L643.2,130.9 L640.9,132.9 Z" fill="#555"/>
<text x="649.10" y="133.52" font-size="11" fill="#555" stroke="#555" stroke-width="0.15">1.10</text>
<path d="M640.9,183.3 L643.2,185.3 L640.9,187.3 Z" fill="#555"/>
<text x="649.10" y="187.90" font-size="11" fill="#555" stroke="#555" stroke-width="0.15">1.00</text>
<path d="M640.9,212.6 L643.2,214.6 L640.9,216.6 Z" fill="#555"/>
<text x="649.10" y="217.17" font-size="11" fill="#555" stroke="#555" stroke-width="0.15">0.95</text>
<path d="M640.9,249.8 L643.2,251.8 L640.9,253.8 Z" fill="#555"/>
<text x="649.10" y="254.39" font-size="11" fill="#555" stroke="#555" stroke-width="0.15">0.89</text>
<path d="M640.9,289.6 L643.2,291.6 L640.9,293.6 Z" fill="#555"/>
<text x="649.10" y="294.22" font-size="11" fill="#555" stroke="#555" stroke-width="0.15">0.83</text>
<path d="M640.9,332.4 L643.2,334.4 L640.9,336.4 Z" fill="#555"/>
<text x="649.10" y="337.03" font-size="11" fill="#555" stroke="#555" stroke-width="0.15">0.77</text>
<path d="M640.9,378.7 L643.2,380.7 L640.9,382.7 Z" fill="#555"/>
<text x="649.10" y="383.32" font-size="11" fill="#555" stroke="#555" stroke-width="0.15">0.71</text>
<path d="M640.9,429.1 L643.2,431.1 L640.9,433.1 Z" fill="#555"/>
<text x="649.10" y="433.70" font-size="11" fill="#555" stroke="#555" stroke-width="0.15">0.65</text>
<path d="M640.9,484.4 L643.2,486.4 L640.9,488.4 Z" fill="#555"/>
<text x="649.10" y="488.97" font-size="11" fill="#555" stroke="#555" stroke-width="0.15">0.59</text>
<path d="M563.9,521.0 L566.2,523.0 L563.9,525.0 Z" fill="#555"/>
<text x="572.10" y="525.92" font-size="11" fill="#555" stroke="#555" stroke-width="0.15">1.30</text>
<path d="M563.9,566.7 L566.2,568.7 L563.9,570.7 Z" fill="#555"/>
<text x="572.10" y="571.59" font-size="11" fill="#555" stroke="#555" stroke-width="0.15">1.20</text>
<path d="M563.9,616.3 L566.2,618.3 L563.9,620.3 Z" fill="#555"/>
<text x="572.10" y="621.23" font-size="11" fill="#555" stroke="#555" stroke-width="0.15">1.10</text>
<path d="M563.9,670.7 L566.2,672.7 L563.9,674.7 Z" fill="#555"/>
<text x="572.10" y="675.60" font-size="11" fill="#555" stroke="#555" stroke-width="0.15">1.00</text>
<path d="M563.9,700.0 L566.2,702.0 L563.9,704.0 Z" fill="#555"/>
<text x="572.10" y="704.86" font-size="11" fill="#555" stroke="#555" stroke-width="0.15">0.95</text>
<path d="M563.9,737.2 L566.2,739.2 L563.9,741.2 Z" fill="#555"/>
<text x="572.10" y="742.08" font-size="11" fill="#555" stroke="#555" stroke-width="0.15">0.89</text>
<path d="M563.9,777.0 L566.2,779.0 L563.9,781.0 Z" fill="#555"/>
<text x="572.10" y="781.90" font-size="11" fill="#555" stroke="#555" stroke-width="0.15">0.83</text>
<path d="M563.9,819.8 L566.2,821.8 L563.9,823.8 Z" fill="#555"/>
<text x="572.10" y="824.71" font-size="11" fill="#555" stroke="#555" stroke-width="0.15">0.77</text>
<path d="M563.9,866.1 L566.2,868.1 L563.9,870.1 Z" fill="#555"/>
<text x="572.10" y="870.99" font-size="11" fill="#555" stroke="#555" stroke-width="0.15">0.71</text>
<path d="M563.9,916.5 L566.2,918.5 L563.9,920.5 Z" fill="#555"/>
<text x="572.10" y="921.36" font-size="11" fill="#555" stroke="#555" stroke-width="0.15">0.65</text>
<path d="M563.9,971.7 L566.2,973.7 L563.9,975.7 Z" fill="#555"/>
<text x="572.10" y="976.61" font-size="11" fill="#555" stroke="#555" stroke-width="0.15">0.59</text>
<rect x="563" y="106" width="77" height="30" fill="#1a8aff"/>
<path d="M563.9,113.9 L566.2,115.9 L563.9,117.9 Z" fill="rgba(0,40,120,0.13)"/>
<text x="572.50" y="118.19" font-size="11" fill="rgba(0,40,120,0.13)" textLength="35.19" lengthAdjust="spacingAndGlyphs">105.00</text>
<text x="601.00" y="118.75" font-size="10" fill="#fff" font-weight="bold" text-anchor="middle">RBA</text>
<text x="601.00" y="129.70" font-size="11" fill="#fff" font-weight="bold" text-anchor="middle">101.76</text>
<rect x="640" y="75" width="77" height="30" fill="#8a17ff"/>
<path d="M640.9,79.3 L643.2,81.3 L640.9,83.3 Z" fill="rgba(40,0,100,0.13)"/>
<text x="649.50" y="83.57" font-size="11" fill="rgba(40,0,100,0.13)">1.20</text>
<text x="678.50" y="87.80" font-size="10" fill="#fff" font-weight="bold" textLength="51.50" lengthAdjust="spacingAndGlyphs" text-anchor="middle">DPS (LTM)</text>
<text x="678.50" y="98.80" font-size="10.5" fill="#fff" font-weight="bold" text-anchor="middle">1.18</text>
<rect x="563" y="563" width="154" height="30" fill="#ff7f45"/>
<path d="M563.9,566.7 L566.2,568.7 L563.9,570.7 Z" fill="rgba(120,40,0,0.13)"/>
<text x="572.50" y="570.99" font-size="11" fill="rgba(120,40,0,0.13)">1.20</text>
<text x="640.00" y="575.60" font-size="10" fill="#fff" font-weight="bold" textLength="51.50" lengthAdjust="spacingAndGlyphs" text-anchor="middle">DPS (LTM)</text>
<text x="640.00" y="586.80" font-size="10.5" fill="#fff" font-weight="bold" text-anchor="middle">1.18</text>
<text x="10.40" y="995.80" font-size="12" fill="#666" font-weight="bold" textLength="31.00" lengthAdjust="spacingAndGlyphs" text-anchor="middle">2016</text>
<text x="119.16" y="995.80" font-size="12" fill="#666" font-weight="bold" textLength="31.00" lengthAdjust="spacingAndGlyphs" text-anchor="middle">2018</text>
<text x="227.92" y="995.80" font-size="12" fill="#666" font-weight="bold" textLength="31.00" lengthAdjust="spacingAndGlyphs" text-anchor="middle">2020</text>
<text x="336.68" y="995.80" font-size="12" fill="#666" font-weight="bold" textLength="31.00" lengthAdjust="spacingAndGlyphs" text-anchor="middle">2022</text>
<text x="445.44" y="995.80" font-size="12" fill="#666" font-weight="bold" textLength="31.00" lengthAdjust="spacingAndGlyphs" text-anchor="middle">2024</text>
<text x="554.20" y="995.80" font-size="12" fill="#666" font-weight="bold" textLength="31.00" lengthAdjust="spacingAndGlyphs" text-anchor="middle">2026</text>
<rect x="4.5" y="4.5" width="277.5" height="26" rx="3.5" fill="#fff" stroke="#e6e6e6" stroke-width="1"/>
<path d="M8,4 L8,31 L7,31 Q4,31 4,28 L4,7 Q4,4 7,4 Z" fill="#0a84ff"/>
<text x="13.00" y="20.80" font-size="12" fill="#1c1c26" font-weight="bold" textLength="23.50" lengthAdjust="spacingAndGlyphs">RBA</text>
<text x="47.00" y="20.80" font-size="12" fill="#1c1c26" font-weight="bold" textLength="80.50" lengthAdjust="spacingAndGlyphs">RB Global, Inc.</text>
<text x="138.00" y="20.60" font-size="12" fill="#1c1c26" font-weight="bold" textLength="37.80" lengthAdjust="spacingAndGlyphs">101.76</text>
<text x="177.60" y="20.60" font-size="6.2" fill="#555" font-weight="bold" textLength="16.30" lengthAdjust="spacingAndGlyphs">USD</text>
<text x="200.70" y="20.70" font-size="12" fill="#d43a3a" font-weight="bold" textLength="28.30" lengthAdjust="spacingAndGlyphs">-0.03</text>
<text x="235.50" y="20.70" font-size="12" fill="#d43a3a" font-weight="bold" textLength="29.20" lengthAdjust="spacingAndGlyphs">-0.03</text>
<text x="264.80" y="20.70" font-size="6.5" fill="#d43a3a" font-weight="bold" textLength="6.20" lengthAdjust="spacingAndGlyphs">%</text>
<rect x="4.5" y="39.5" width="320.3" height="26" rx="3.5" fill="#fff" stroke="#e6e6e6" stroke-width="1"/>
<path d="M8,39 L8,66 L7,66 Q4,66 4,63 L4,42 Q4,39 7,39 Z" fill="#8a1cff"/>
<text x="13.00" y="55.80" font-size="12" fill="#1c1c26" font-weight="bold" textLength="23.50" lengthAdjust="spacingAndGlyphs">RBA</text>
<text x="47.00" y="55.80" font-size="12" fill="#1c1c26" font-weight="bold" textLength="80.50" lengthAdjust="spacingAndGlyphs">RB Global, Inc.</text>
<text x="137.30" y="55.90" font-size="12.3" fill="#1c1c26" stroke="#1c1c26" stroke-width="0.3" textLength="139.60" lengthAdjust="spacingAndGlyphs">Dividend Per Share (LTM)</text>
<text x="287.20" y="55.50" font-size="12" fill="#1c1c26" font-weight="bold" textLength="23.80" lengthAdjust="spacingAndGlyphs">1.18</text>
<rect x="4.5" y="492.5" width="320.3" height="26" rx="3.5" fill="#fff" stroke="#e6e6e6" stroke-width="1"/>
<path d="M8,492 L8,519 L7,519 Q4,519 4,516 L4,495 Q4,492 7,492 Z" fill="#ff6a2a"/>
<text x="13.00" y="508.90" font-size="12" fill="#1c1c26" font-weight="bold" textLength="23.50" lengthAdjust="spacingAndGlyphs">RBA</text>
<text x="47.00" y="508.90" font-size="12" fill="#1c1c26" font-weight="bold" textLength="80.50" lengthAdjust="spacingAndGlyphs">RB Global, Inc.</text>
<text x="137.30" y="509.00" font-size="12.3" fill="#1c1c26" stroke="#1c1c26" stroke-width="0.3" textLength="139.60" lengthAdjust="spacingAndGlyphs">Dividend Per Share (LTM)</text>
<text x="287.20" y="508.60" font-size="12" fill="#1c1c26" font-weight="bold" textLength="23.80" lengthAdjust="spacingAndGlyphs">1.18</text>
</svg></body></html>
